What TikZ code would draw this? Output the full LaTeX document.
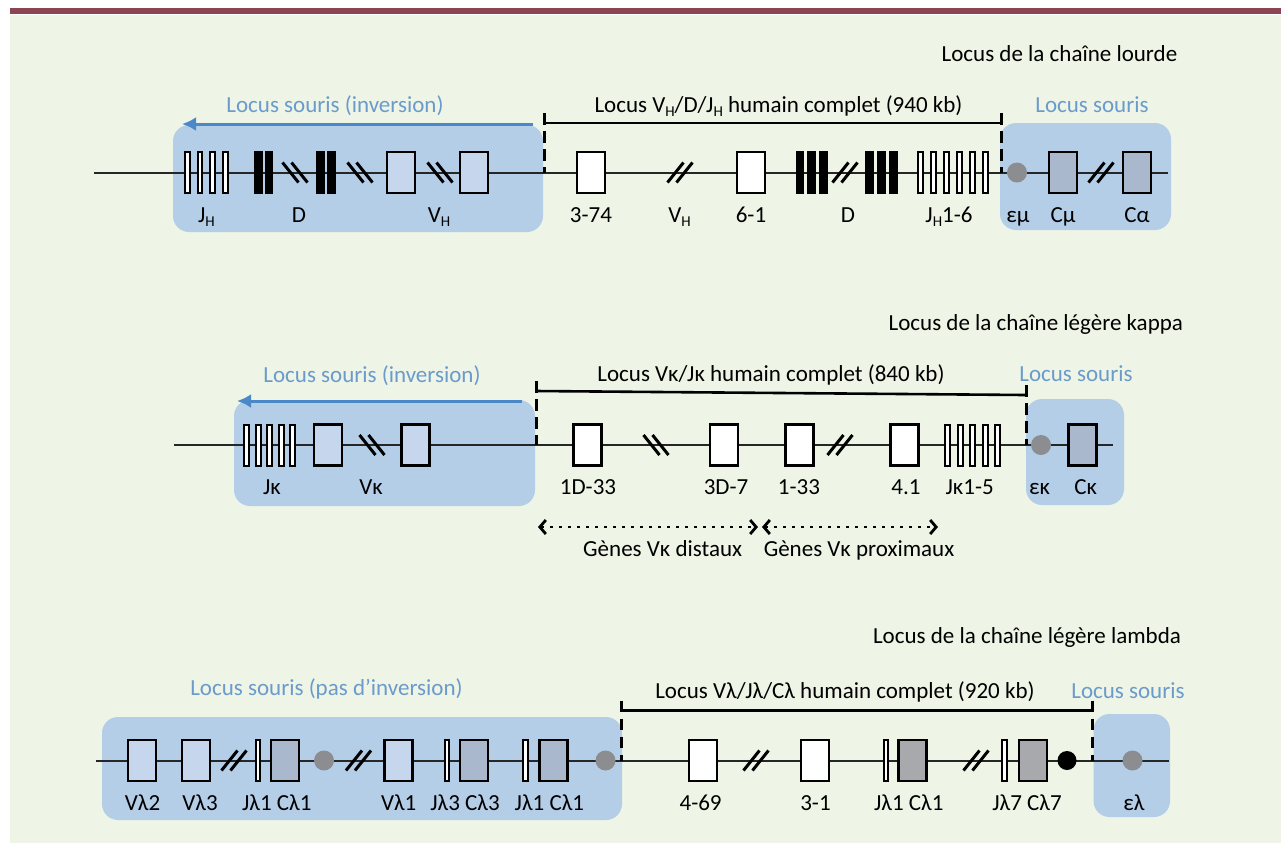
\documentclass[tikz,border=0pt]{standalone}
\usepackage{fontspec}
\setmainfont{Carlito}
\usetikzlibrary{arrows.meta}

\definecolor{bggreen}{HTML}{EEF4E6}
\definecolor{topbar}{HTML}{8B4552}
\definecolor{regblue}{HTML}{B5CEE8}
\definecolor{mvblue}{HTML}{C6D6EC}
\definecolor{mcgray}{HTML}{A9B8CD}
\definecolor{hcgray}{HTML}{A7A9AD}
\definecolor{enhgray}{HTML}{8C8D91}
\definecolor{mouseblue}{HTML}{6A9BCB}
\definecolor{arrowblue}{HTML}{4A88C8}

% lowered small H used for V_H, J_H
\newcommand\subH{\raisebox{-2.4pt}{\fontsize{7.5}{8}\selectfont H}}

\tikzset{
  region/.style={fill=regblue, rounded corners=8pt},
  backbone/.style={line width=1pt, black!85},
  seg/.style={draw, line width=1.3pt, minimum width=14pt, minimum height=20.5pt, inner sep=0pt, outer sep=0pt},
  hbox/.style={seg, fill=white},
  mvbox/.style={seg, fill=mvblue},
  mcbox/.style={seg, fill=mcgray},
  hcbox/.style={seg, fill=hcgray},
  jseg/.style={draw, fill=white, line width=1pt, minimum width=2.3pt, minimum height=20.5pt, inner sep=0pt},
  dseg/.style={fill=black, minimum width=4.3pt, minimum height=21.5pt, inner sep=0pt},
  enh/.style={circle, fill=enhgray, minimum size=10pt, inner sep=0pt},
  enhblack/.style={circle, fill=black, minimum size=9.5pt, inner sep=0pt},
  lbl/.style={anchor=base, inner sep=0pt, font=\fontsize{11.5}{13}\selectfont},
  mlbl/.style={lbl, text=mouseblue},
  brk/.style={line width=1.3pt},
  junction/.style={line width=1.5pt, dash pattern=on 5.75pt off 3.25pt},
  invarrow/.style={line width=1.5pt, arrowblue, -{Latex[length=7pt,width=7pt]}},
  span/.style={line width=1.2pt, dash pattern=on 1.2pt off 3.3pt,
    {Straight Barb[length=3pt,width=7pt,line width=1.4pt]}-{Straight Barb[length=3pt,width=7pt,line width=1.4pt]}},
  cutb/.pic={\draw[line width=1.5pt] (-12.5,-10)--(3.5,10) (-3.5,-10)--(12.5,10);},
  cutf/.pic={\draw[line width=1.5pt] (-12.5,10)--(3.5,-10) (-3.5,10)--(12.5,-10);},
}

\begin{document}
\begin{tikzpicture}[x=0.5pt,y=-0.5pt]
\useasboundingbox (0,0) rectangle (1281,843);
\fill[white] (0,0) rectangle (1281,843);
\fill[bggreen] (10,15) rectangle (1281,843);
\fill[topbar] (10,8) rectangle (1281,14);

% ================= heavy chain =================
\fill[region] (173,125) rectangle (543,232);
\fill[region] (1000,123) rectangle (1171,230);
\coordinate (r1s) at (94,172.5);
\coordinate (r1e) at (1168,172.5);
\draw[backbone] (r1s) -- (r1e);
\coordinate (a1s) at (533,124);
\coordinate (a1e) at (182,124);
\draw[invarrow] (a1s) -- (a1e);

\node[lbl] (t1) at (1059.5,61) {Locus de la chaîne lourde};
\node[mlbl] (m1l) at (335,112) {Locus souris (inversion)};
\node[mlbl] (m1r) at (1092,112) {Locus souris};
\node[lbl] (h1t) at (778.5,112) {Locus V\subH/D/J\subH\ humain complet (940 kb)};

% human span bracket
\coordinate (b1l) at (544,123);
\coordinate (b1r) at (1001,123);
\coordinate (b1lt) at (544,113);
\coordinate (b1lb) at (544,172.5);
\coordinate (b1rt) at (1001,113);
\coordinate (b1rb) at (1001,172.5);
\draw[brk] (b1l) -- (b1r);
\draw[junction] (b1lt) -- (b1lb);
\draw[junction] (b1rt) -- (b1rb);

% mouse inverted part
\foreach \x [count=\i] in {187.2,199.9,212.6,225.3} \node[jseg] (mjh\i) at (\x,172.5) {};
\foreach \x [count=\i] in {258.5,269,320.5,331.5} \node[dseg] (md\i) at (\x,172.5) {};
\pic at (295,172.5) {cutb};
\pic at (360,172.5) {cutb};
\pic at (440,172.5) {cutb};
\node[mvbox] (mvh1) at (401,172.5) {};
\node[mvbox] (mvh2) at (474,172.5) {};

% human part
\node[hbox] (h374) at (591,172.5) {};
\pic at (680,172.5) {cutf};
\node[hbox] (h61) at (751,172.5) {};
\foreach \x [count=\i] in {800,811.7,823.4,869.5,881.5,893.5} \node[dseg] (hd\i) at (\x,172.5) {};
\pic at (845,172.5) {cutf};
\foreach \x [count=\i] in {920.7,933.6,946.5,959.4,972.3,985.2} \node[jseg] (hjh\i) at (\x,172.5) {};

% mouse constant part
\node[enh] (emu) at (1017,172.5) {};
\node[mcbox] (cmu) at (1063,172.5) {};
\pic at (1101,172.5) {cutf};
\node[mcbox] (calpha) at (1137,172.5) {};

\node[lbl] (l1a) at (206.5,222) {J\subH};
\node[lbl] (l1b) at (299,222) {D};
\node[lbl] (l1c) at (439,222) {V\subH};
\node[lbl] (l1d) at (591,222) {3-74};
\node[lbl] (l1e) at (679.5,222) {V\subH};
\node[lbl] (l1f) at (751,222) {6-1};
\node[lbl] (l1g) at (848,222) {D};
\node[lbl] (l1h) at (949,222) {J\subH1-6};
\node[lbl] (l1i) at (1018,222) {εμ};
\node[lbl] (l1j) at (1063,222) {Cμ};
\node[lbl] (l1k) at (1137,222) {Cα};

% ================= kappa light chain =================
\fill[region] (234,400) rectangle (535,506);
\fill[region] (1026,399) rectangle (1124,505);
\coordinate (r2s) at (174,445);
\coordinate (r2e) at (1113,445);
\draw[backbone] (r2s) -- (r2e);
\coordinate (a2s) at (522,401);
\coordinate (a2e) at (237,401);
\draw[invarrow] (a2s) -- (a2e);

\node[lbl] (t2) at (1035.8,330.7) {Locus de la chaîne légère kappa};
\node[mlbl] (m2l) at (372,382.7) {Locus souris (inversion)};
\node[mlbl] (m2r) at (1076,381.7) {Locus souris};
\node[lbl] (h2t) at (771,381.7) {Locus Vκ/Jκ humain complet (840 kb)};

\coordinate (b2l) at (536,391);
\coordinate (b2r) at (1026,395);
\coordinate (b2lt) at (536,381);
\coordinate (b2lb) at (536,445);
\coordinate (b2rt) at (1026,385);
\coordinate (b2rb) at (1026,445);
\draw[brk] (b2l) -- (b2r);
\draw[junction] (b2lt) -- (b2lb);
\draw[junction] (b2rt) -- (b2rb);

\foreach \x [count=\i] in {246.7,258.2,269.7,281.2,292.7} \node[jseg] (mjk\i) at (\x,445) {};
\node[mvbox] (mvk1) at (328,445) {};
\pic at (372,445) {cutb};
\node[mvbox] (mvk2) at (415.5,445) {};

\node[hbox] (h1d33) at (587.3,445) {};
\pic at (656,445) {cutb};
\node[hbox] (h3d7) at (724,445) {};
\node[hbox] (h133) at (799.3,445) {};
\pic at (840,445) {cutf};
\node[hbox] (h41) at (904.2,445) {};
\foreach \x [count=\i] in {947.7,960.2,972.7,985.2,997.7} \node[jseg] (hjk\i) at (\x,445) {};

\node[enh] (ekappa) at (1041,445) {};
\node[mcbox] (ckappa) at (1082.3,445) {};

\node[lbl] (l2a) at (272,494) {Jκ};
\node[lbl] (l2b) at (371,494) {Vκ};
\node[lbl] (l2c) at (588,494) {1D-33};
\node[lbl] (l2d) at (726,494) {3D-7};
\node[lbl] (l2e) at (799,494) {1-33};
\node[lbl] (l2f) at (906,494) {4.1};
\node[lbl] (l2g) at (969.7,494) {Jκ1-5};
\node[lbl] (l2h) at (1039.7,494) {εκ};
\node[lbl] (l2i) at (1085.7,494) {Cκ};

% distal / proximal V kappa clusters
\coordinate (dl) at (538,527);
\coordinate (dr) at (758,527);
\coordinate (pl) at (762,527);
\coordinate (pr) at (938,527);
\draw[span] (dl) -- (dr);
\draw[span] (pl) -- (pr);
\node[lbl] (l2j) at (662.7,556.7) {Gènes Vκ distaux};
\node[lbl] (l2k) at (859,556.7) {Gènes Vκ proximaux};

% ================= lambda light chain =================
\fill[region] (102,717) rectangle (622,820);
\fill[region] (1093.5,714) rectangle (1170,817);
\coordinate (r3s) at (96,760.5);
\coordinate (r3e) at (1169,760.5);
\draw[backbone] (r3s) -- (r3e);

\node[lbl] (t3) at (1027,643) {Locus de la chaîne légère lambda};
\node[mlbl] (m3l) at (326.5,695) {Locus souris (pas d’inversion)};
\node[mlbl] (m3r) at (1128,698) {Locus souris};
\node[lbl] (h3t) at (845,698) {Locus Vλ/Jλ/Cλ humain complet (920 kb)};

\coordinate (b3l) at (621,710.7);
\coordinate (b3r) at (1092,710.7);
\coordinate (b3lt) at (621,700.7);
\coordinate (b3lb) at (621,760.5);
\coordinate (b3rt) at (1092,700.7);
\coordinate (b3rb) at (1092,760.5);
\draw[brk] (b3l) -- (b3r);
\draw[junction] (b3lt) -- (b3lb);
\draw[junction] (b3rt) -- (b3rb);

% mouse lambda
\node[mvbox] (mvl2) at (142,760.5) {};
\node[mvbox] (mvl3) at (196,760.5) {};
\pic at (234,760.5) {cutf};
\node[jseg] (mjl1a) at (257.8,760.5) {};
\node[mcbox] (mcl1a) at (285,760.5) {};
\node[enh] (me1) at (324,760.5) {};
\pic at (358.5,760.5) {cutf};
\node[mvbox] (mvl1) at (398.7,760.5) {};
\node[jseg] (mjl3) at (447,760.5) {};
\node[mcbox] (mcl3) at (474,760.5) {};
\node[jseg] (mjl1b) at (525.6,760.5) {};
\node[mcbox] (mcl1b) at (553.7,760.5) {};
\node[enh] (me2) at (605.5,760.5) {};

% human lambda
\node[hbox] (h469) at (703,760.5) {};
\pic at (756,760.5) {cutf};
\node[hbox] (h31) at (815,760.5) {};
\node[jseg] (hjl1) at (886,760.5) {};
\node[hcbox] (hcl1) at (912.7,760.5) {};
\pic at (976,760.5) {cutf};
\node[jseg] (hjl7) at (1004.7,760.5) {};
\node[hcbox] (hcl7) at (1033,760.5) {};
\node[enhblack] (he) at (1067,760.5) {};

\node[enh] (elambda) at (1132.5,760.5) {};

\node[lbl] (l3a) at (142.6,810) {Vλ2};
\node[lbl] (l3b) at (200,810) {Vλ3};
\node[lbl] (l3c) at (276.8,810) {Jλ1 Cλ1};
\node[lbl] (l3d) at (398.7,810) {Vλ1};
\node[lbl] (l3e) at (465,810) {Jλ3 Cλ3};
\node[lbl] (l3f) at (549.4,810) {Jλ1 Cλ1};
\node[lbl] (l3g) at (700.6,810) {4-69};
\node[lbl] (l3h) at (815.5,810) {3-1};
\node[lbl] (l3i) at (908.8,810) {Jλ1 Cλ1};
\node[lbl] (l3j) at (1027,810) {Jλ7 Cλ7};
\node[lbl] (l3k) at (1134,810) {ελ};
\end{tikzpicture}
\end{document}
